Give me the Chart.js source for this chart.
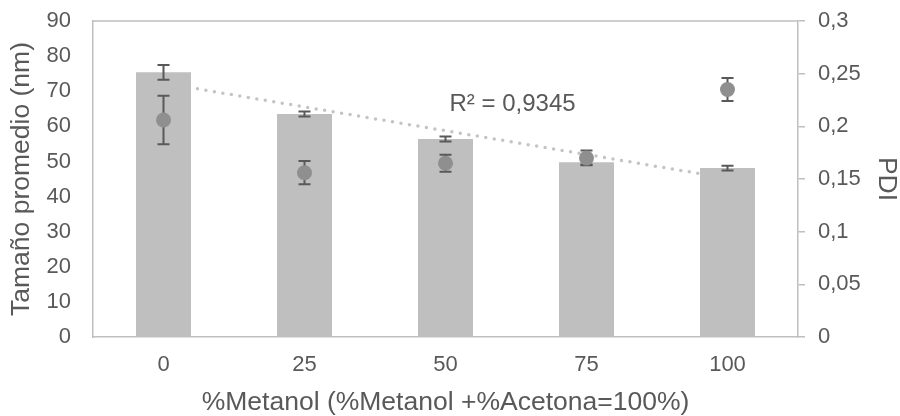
<!DOCTYPE html>
<html>
<head>
<meta charset="utf-8">
<script src="https://cdn.jsdelivr.net/npm/chart.js@4.4.1/dist/chart.umd.min.js"></script>
<style>
  html, body { margin: 0; padding: 0; background: #ffffff; }
  #wrap { width: 900px; height: 416px; position: relative; }
</style>
</head>
<body>
<div id="wrap"><canvas id="c" width="900" height="416"></canvas></div>
<script>
// ---- Data ----
const categories = ['0', '25', '50', '75', '100'];
const sizeValues = [75.4, 63.5, 56.4, 49.8, 48.1];      // Tamaño promedio (nm)
const sizeErrors = [2.1, 0.7, 0.7, 0.7, 0.7];
const pdiValues  = [0.206, 0.156, 0.165, 0.170, 0.235]; // PDI
const pdiErrors  = [0.023, 0.011, 0.008, 0.007, 0.011];
const trendValues = [72.3, null, null, null, 45.2];     // linear trendline end points
const trendLabel = 'R\u00B2 = 0,9345';
const yTicksMax = 90;
const y1TicksMax = 0.3;

const GRID = '#bfbfbf';
const TEXT = '#595959';
const FONT = "'Liberation Sans', Arial, sans-serif";

const errorBarPlugin = {
  id: 'errorBars',
  drawErrors(chart, index, meta) {
    const ds = chart.data.datasets[index];
    if (!ds.errors) return;
    const ys = chart.scales[meta.yAxisID];
    const ctx = chart.ctx;
    ctx.save();
    ctx.strokeStyle = '#595959';
    ctx.lineWidth = 2;
    meta.data.forEach((el, i) => {
      const v = ds.data[i], e = ds.errors[i];
      if (v == null || e == null) return;
      const x = el.x;
      const yT = ys.getPixelForValue(v + e);
      const yB = ys.getPixelForValue(v - e);
      ctx.beginPath();
      ctx.moveTo(x, yT); ctx.lineTo(x, yB);
      ctx.moveTo(x - 6, yT); ctx.lineTo(x + 6, yT);
      ctx.moveTo(x - 6, yB); ctx.lineTo(x + 6, yB);
      ctx.stroke();
    });
    ctx.restore();
  },
  beforeDatasetDraw(chart, args) {
    const ds = chart.data.datasets[args.index];
    if (ds.errorsBehind) this.drawErrors(chart, args.index, args.meta);
  },
  afterDatasetDraw(chart, args) {
    const ds = chart.data.datasets[args.index];
    if (!ds.errorsBehind) this.drawErrors(chart, args.index, args.meta);
  }
};

const decorPlugin = {
  id: 'decor',
  beforeDatasetsDraw(chart) {
    const {ctx, chartArea} = chart;
    ctx.save();
    ctx.strokeStyle = GRID;
    ctx.lineWidth = 1.5;
    ctx.beginPath();
    ctx.moveTo(chartArea.left, chartArea.top);
    ctx.lineTo(chartArea.right, chartArea.top);
    ctx.stroke();
    ctx.restore();
  },
  afterDatasetsDraw(chart) {
    const {ctx} = chart;
    const xs = chart.scales.x, ys = chart.scales.y;
    ctx.save();
    ctx.fillStyle = TEXT;
    ctx.font = "24px " + FONT;
    ctx.textAlign = 'left';
    ctx.textBaseline = 'alphabetic';
    ctx.fillText(trendLabel, xs.getPixelForValue(2) + 4, ys.getPixelForValue(64.4));
    ctx.restore();
  }
};

const fmtComma = v => {
  const r = Math.round(v * 1000) / 1000;
  return String(r).replace('.', ',');
};

new Chart(document.getElementById('c'), {
  type: 'bar',
  data: {
    labels: categories,
    datasets: [
      {
        type: 'line',
        label: 'PDI',
        data: pdiValues,
        errors: pdiErrors,
        errorsBehind: true,
        yAxisID: 'y1',
        showLine: false,
        pointRadius: 7.5,
        pointBackgroundColor: '#8f8f8f',
        pointBorderColor: '#8f8f8f',
        pointBorderWidth: 0,
        order: 0
      },
      {
        type: 'bar',
        label: 'Tamaño',
        data: sizeValues,
        errors: sizeErrors,
        yAxisID: 'y',
        backgroundColor: '#bfbfbf',
        borderWidth: 0,
        barPercentage: 0.39,
        categoryPercentage: 1,
        order: 1
      },
      {
        type: 'line',
        label: 'Tendencia',
        data: trendValues,
        yAxisID: 'y',
        spanGaps: true,
        borderColor: '#c4c4c4',
        borderWidth: 3.5,
        borderDash: [0, 8.6],
        borderCapStyle: 'round',
        pointRadius: 0,
        fill: false,
        order: 2
      }
    ]
  },
  options: {
    responsive: false,
    animation: false,
    layout: { padding: { top: 21, left: 0, right: 0, bottom: 0 } },
    plugins: { legend: { display: false }, tooltip: { enabled: false } },
    scales: {
      x: {
        position: 'bottom',
        grid: { display: false, drawTicks: false },
        border: { display: true, color: GRID, width: 1.5 },
        ticks: { color: TEXT, font: { family: FONT, size: 22 }, padding: 15 },
        title: {
          display: true,
          text: '%Metanol (%Metanol +%Acetona=100%)',
          color: TEXT,
          font: { family: FONT, size: 26.5, lineHeight: 1 },
          padding: { top: 0, bottom: 0 }
        },
        afterFit(s) { s.height = 79; }
      },
      y: {
        position: 'left',
        min: 0, max: yTicksMax,
        ticks: { stepSize: 10, color: TEXT, font: { family: FONT, size: 22 }, padding: 22 },
        grid: { display: false, drawTicks: false },
        border: { display: true, color: GRID, width: 1.5 },
        title: {
          display: true,
          text: 'Tamaño promedio (nm)',
          color: TEXT,
          font: { family: FONT, size: 26.5, lineHeight: 1 },
          padding: { top: 8, bottom: 0 }
        },
        afterFit(s) { s.width = 93; s.paddingTop = 0; s.paddingBottom = 0; }
      },
      y1: {
        position: 'right',
        min: 0, max: y1TicksMax,
        ticks: { stepSize: 0.05, color: TEXT, font: { family: FONT, size: 22 }, padding: 13, callback: v => fmtComma(v) },
        grid: { display: true, drawOnChartArea: false, drawTicks: true, tickLength: 7, color: GRID, lineWidth: 1.5 },
        border: { display: true, color: GRID, width: 1.5 },
        title: {
          display: true,
          text: 'PDI',
          color: TEXT,
          font: { family: FONT, size: 26.5, lineHeight: 1 },
          padding: { top: 0, bottom: 0 }
        },
        afterFit(s) { s.width = 102; s.paddingTop = 0; s.paddingBottom = 0; }
      }
    }
  },
  plugins: [errorBarPlugin, decorPlugin]
});
</script>
</body>
</html>
